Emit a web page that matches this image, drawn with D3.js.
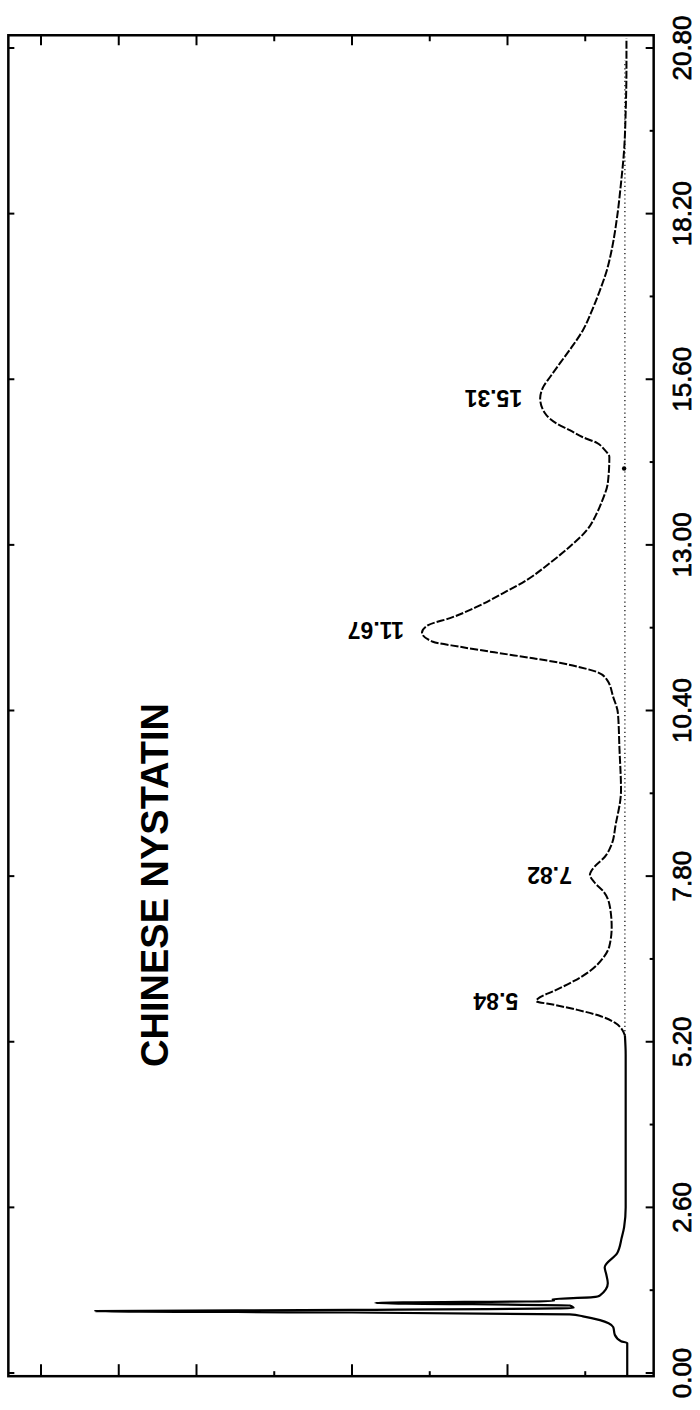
<!DOCTYPE html>
<html>
<head>
<meta charset="utf-8">
<script src="https://cdn.jsdelivr.net/npm/d3@7"></script>
<style>
  html, body { margin: 0; padding: 0; background: #fff; }
  svg { display: block; }
  text { font-family: "Liberation Sans", Arial, sans-serif; fill: #000; }
</style>
</head>
<body>
<div id="chart"></div>
<script>
/* chromatogram, printed sideways: time runs up the page, signal grows to the left */

var TITLE = "CHINESE NYSTATIN";

// time axis (min)
var timeTicks = [0, 2.6, 5.2, 7.8, 10.4, 13.0, 15.6, 18.2, 20.8];
var timeLabels = ["0.00", "2.60", "5.20", "7.80", "10.40", "13.00", "15.60", "18.20", "20.80"];
var timeMinor = [1.3, 3.9, 6.5, 9.1, 11.7, 14.3, 16.9, 19.5];

// detector axis (arbitrary units), ticks on top and bottom edges
var sigMajor = [20, 40, 60, 70, 80];
var sigMinor = [10, 30, 50];

// trace
var traceTime = [-0.03, 0.47, 0.50, 0.60, 0.72, 0.78, 0.83, 0.89, 0.92, 0.95, 0.97, 0.99, 1.02, 1.06, 1.10, 1.13, 1.16, 1.19, 1.22, 1.41, 1.55, 1.66, 1.88, 2.13, 2.29, 2.60, 5.00,
  5.30, 5.40, 5.50, 5.60, 5.70, 5.78, 5.84, 5.90, 6.00, 6.15, 6.30, 6.50, 6.70, 7.00, 7.30, 7.55, 7.70, 7.82, 7.95, 8.10, 8.30, 8.60, 9.15, 9.80,
  10.36, 10.61, 10.88, 11.00, 11.08, 11.15, 11.22, 11.30, 11.40, 11.48, 11.62, 11.74, 11.85, 12.03, 12.24, 12.45, 12.72, 12.97, 13.23, 13.50, 13.70, 13.97,
  14.38, 14.49, 14.60, 14.69, 14.80, 14.90, 15.07, 15.30, 15.48, 15.64, 15.86, 16.06, 16.37, 16.69, 17.00, 17.32, 17.63, 18.15, 18.68, 19.20, 19.80, 20.50, 20.95];
var traceSignal = [4.6, 4.6, 5.4, 6.2, 6.4, 7.0, 8.1, 10.3, 12.0, 40.0, 73.0, 40.0, 11.5, 12.0, 37.0, 14.0, 14.2, 9.0, 8.1, 7.1, 7.3, 7.5, 5.9, 5.3, 5.0, 4.8, 4.8,
  4.9, 5.3, 6.2, 8.0, 11.0, 14.0, 16.3, 15.8, 14.0, 11.5, 9.5, 7.8, 6.9, 6.6, 6.8, 7.6, 8.8, 9.4, 8.8, 7.5, 6.6, 6.1, 5.4, 5.6,
  5.8, 6.4, 7.2, 8.4, 10.7, 13.3, 16.7, 21.0, 26.1, 29.6, 31.0, 30.2, 27.4, 23.9, 20.6, 17.5, 14.5, 12.0, 9.8, 8.5, 7.8, 7.1,
  6.9, 7.5, 8.5, 10.3, 12.0, 13.6, 15.2, 15.8, 15.4, 14.5, 13.2, 12.0, 10.3, 9.1, 8.1, 7.2, 6.6, 5.9, 5.4, 5.0, 4.8, 4.7, 4.7];

// dotted baseline drawn under the peaks
var baseTime = [5.3, 20.6];
var baseSignal = [4.9, 4.9];
var valleyMark = [14.2, 5.0];

// peak annotations
var peakTime = [5.84, 7.82, 11.67, 15.31];
var peakSignal = [16.3, 9.4, 31.0, 15.8];
var peakLabels = ["5.84", "7.82", "11.67", "15.31"];

(function () {
  var W = 700, H = 1410;
  var t = d3.scaleLinear().domain([0, 20.8]).range([1373, 48]);
  var s = d3.scaleLinear().domain([0, 80]).range([663, 41]);

  var frameT = [-0.05, 21.0], frameS = [1.2, 84.2];
  var left = s(frameS[1]), right = s(frameS[0]), top = t(frameT[1]), bottom = t(frameT[0]);

  var svg = d3.select("#chart").append("svg").attr("width", W).attr("height", H);

  // frame
  svg.append("rect")
    .attr("x", left).attr("y", top)
    .attr("width", right - left).attr("height", bottom - top)
    .attr("fill", "none").attr("stroke", "#000").attr("stroke-width", 2.5);

  // time ticks on right edge (inward) and left edge
  var g = svg.append("g").attr("stroke", "#000").attr("stroke-width", 2);
  timeTicks.forEach(function (v) {
    g.append("line").attr("x1", right).attr("x2", right - 8).attr("y1", t(v)).attr("y2", t(v));
    g.append("line").attr("x1", left).attr("x2", left + 6).attr("y1", t(v)).attr("y2", t(v));
  });
  timeMinor.forEach(function (v) {
    g.append("line").attr("x1", right).attr("x2", right - 4).attr("y1", t(v)).attr("y2", t(v));
  });

  // signal ticks on top and bottom edges
  sigMajor.concat(sigMinor).forEach(function (v) {
    var major = sigMajor.indexOf(v) >= 0;
    g.append("line").attr("x1", s(v)).attr("x2", s(v)).attr("y1", bottom).attr("y2", bottom - (major ? 12 : 5));
    g.append("line").attr("x1", s(v)).attr("x2", s(v)).attr("y1", top).attr("y2", top + (major ? 10 : 6));
  });

  // time labels, rotated
  svg.selectAll("text.tl").data(timeTicks).enter().append("text")
    .attr("class", "tl")
    .attr("transform", function (d) { return "translate(682," + t(d) + ") rotate(-90)"; })
    .attr("text-anchor", "middle")
    .attr("dominant-baseline", "central")
    .style("font-size", "26px")
    .style("stroke", "#000").style("stroke-width", "0.7px")
    .text(function (d, i) { return timeLabels[i]; });

  // dotted baseline
  svg.append("line")
    .attr("x1", s(baseSignal[0])).attr("x2", s(baseSignal[1]))
    .attr("y1", t(baseTime[0])).attr("y2", t(baseTime[1]))
    .attr("stroke", "#000").attr("stroke-width", 1.2).attr("stroke-dasharray", "1.2,3");
  svg.append("circle").attr("cx", s(valleyMark[1])).attr("cy", t(valleyMark[0])).attr("r", 2.2).attr("fill", "#000");

  // trace
  var pts = traceTime.map(function (d, i) { return [d, traceSignal[i]]; });
  var line = d3.line().x(function (d) { return s(d[1]); }).y(function (d) { return t(d[0]); }).curve(d3.curveMonotoneY);
  var early = pts.filter(function (d) { return d[0] <= 5.3; });
  var late = pts.filter(function (d) { return d[0] >= 5.3; });
  svg.append("path").attr("d", line(early)).attr("fill", "none").attr("stroke", "#000").attr("stroke-width", 2.2);
  svg.append("path").attr("d", line(late)).attr("fill", "none").attr("stroke", "#000").attr("stroke-width", 2)
    .attr("stroke-dasharray", "8,2");

  // peak labels, upside down
  peakTime.forEach(function (p, i) {
    svg.append("text")
      .attr("transform", "translate(" + (s(peakSignal[i]) - 18) + "," + t(p) + ") rotate(180)")
      .attr("text-anchor", "start")
      .attr("dominant-baseline", "central")
      .style("font-size", "23px").style("font-weight", "bold")
      .text(peakLabels[i]);
  });

  // title
  svg.append("text")
    .attr("transform", "translate(155,885) rotate(-90)")
    .attr("text-anchor", "middle")
    .attr("dominant-baseline", "central")
    .style("font-size", "38px").style("font-weight", "bold")
    .text(TITLE);
})();
</script>
</body>
</html>
